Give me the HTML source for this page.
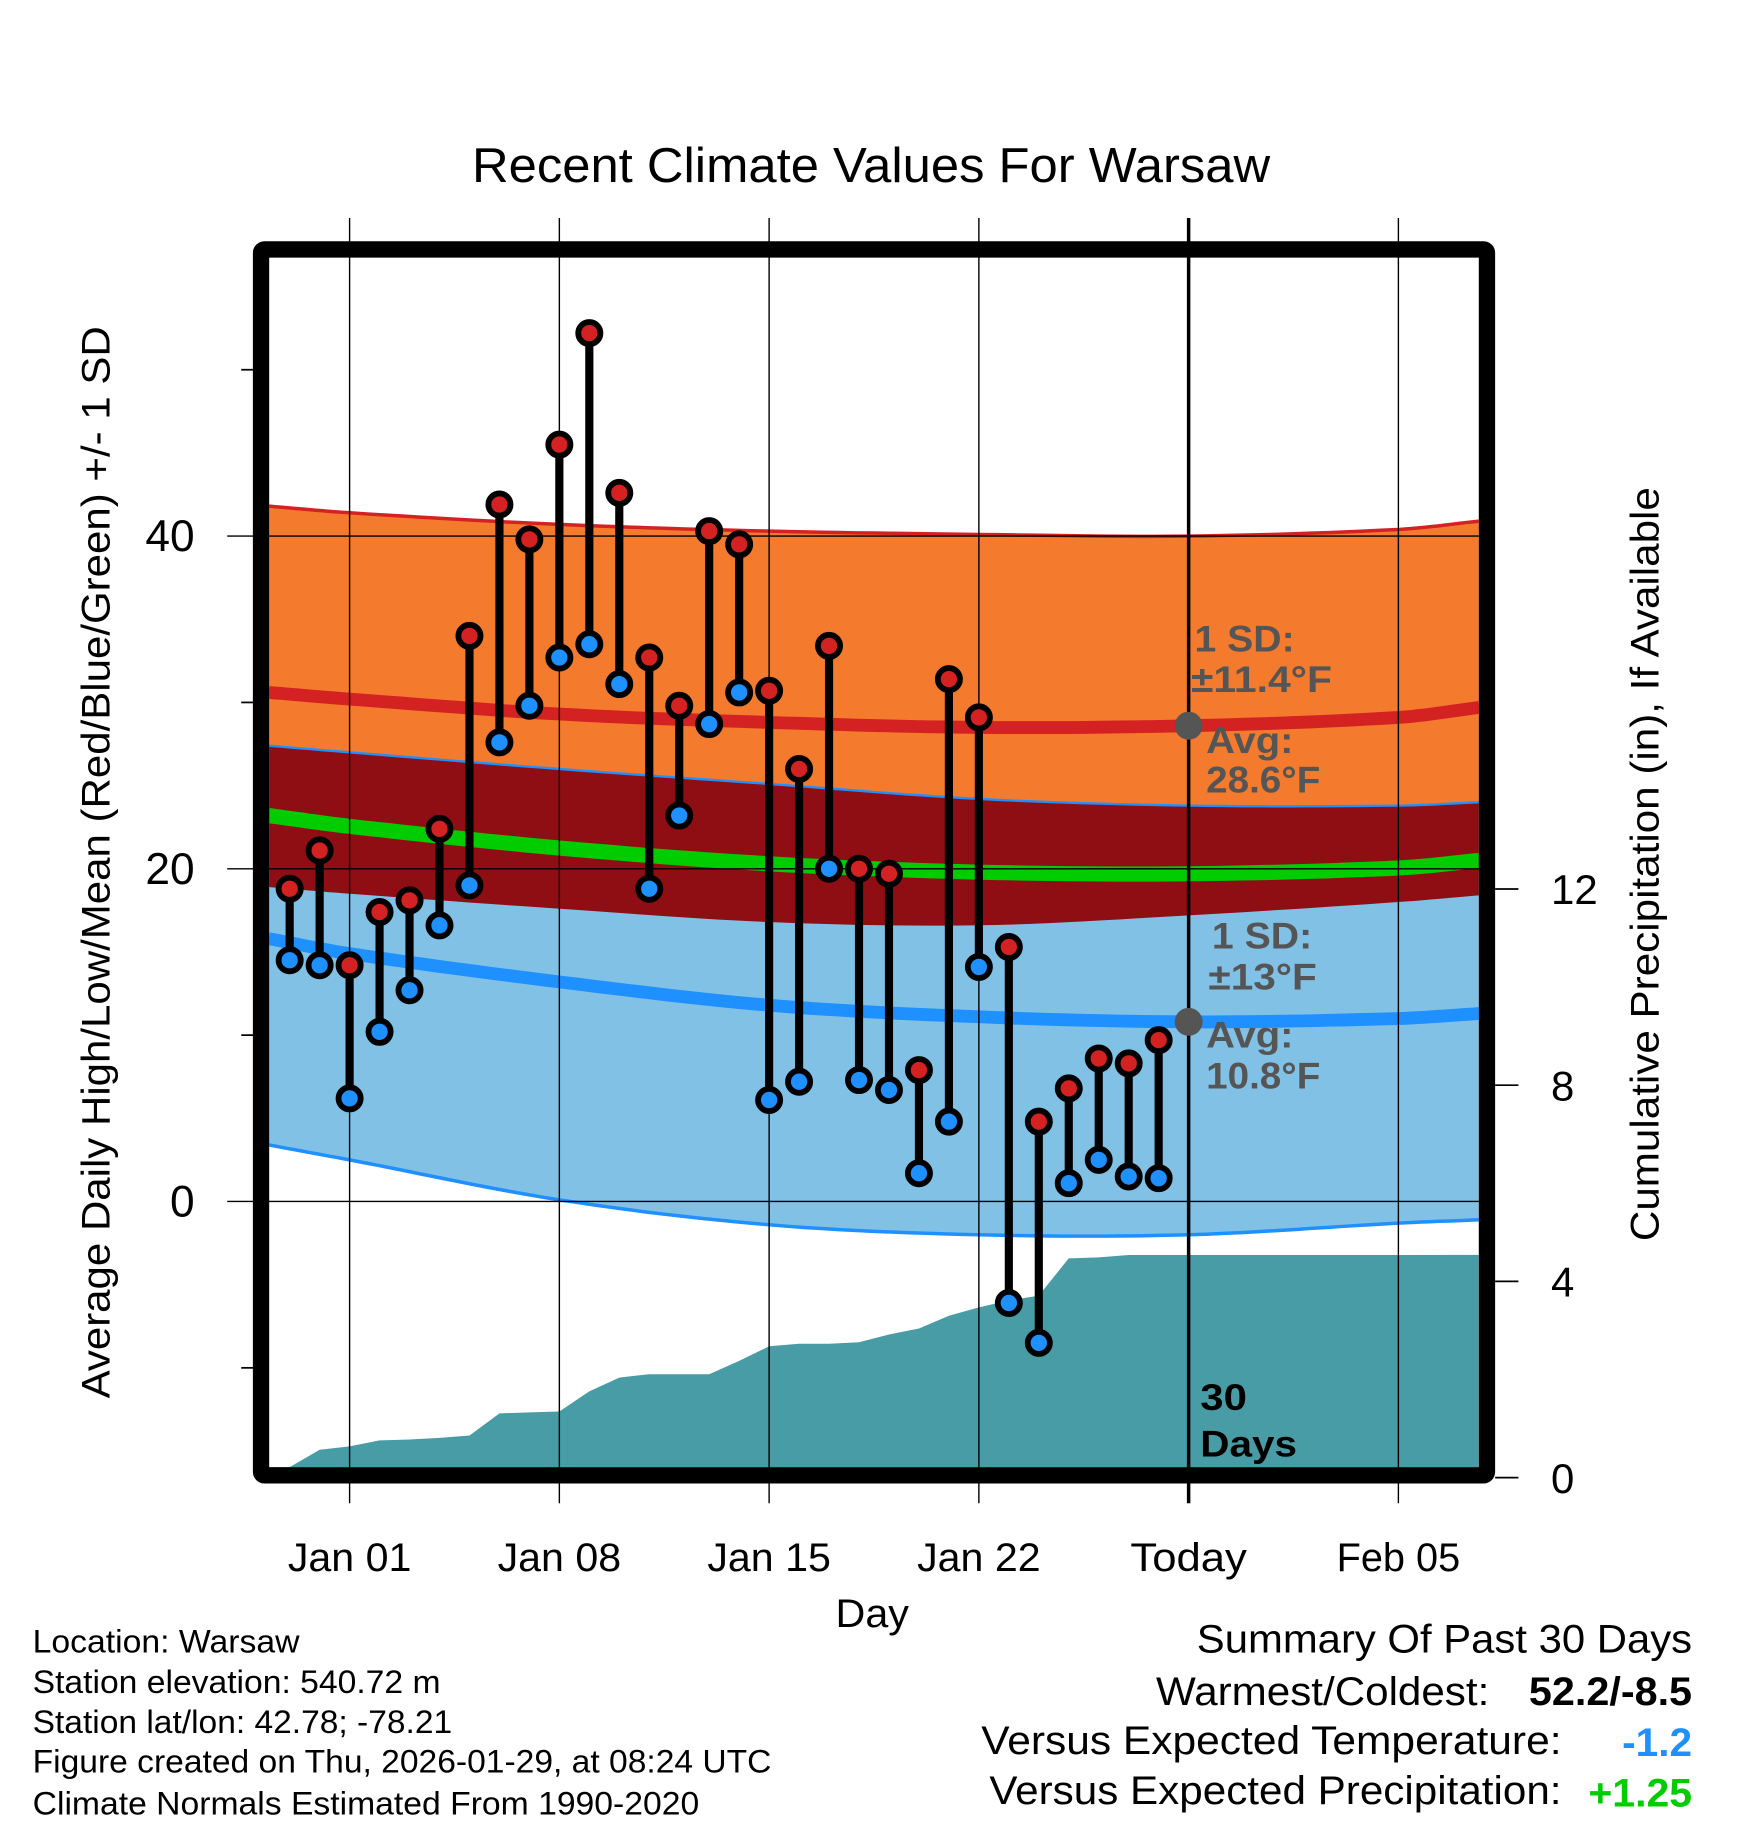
<!DOCTYPE html>
<html><head><meta charset="utf-8"><style>
html,body{margin:0;padding:0;background:#fff;}
svg{display:block;font-family:"Liberation Sans",Arial,sans-serif;}
</style></head><body>
<svg id="chart" width="1748" height="1828" viewBox="0 0 1500 1568.6" xmlns="http://www.w3.org/2000/svg">
<text x="405" y="156" font-size="42" textLength="685" lengthAdjust="spacingAndGlyphs">Recent Climate Values For Warsaw</text>
<g id="plot"></g>
<text x="717" y="1396" font-size="34" textLength="63" lengthAdjust="spacingAndGlyphs">Day</text>
<text transform="translate(94,1200) rotate(-90)" font-size="34" textLength="920" lengthAdjust="spacingAndGlyphs">Average Daily High/Low/Mean (Red/Blue/Green) +/- 1 SD</text>
<text transform="translate(1423,1065) rotate(-90)" font-size="34" textLength="647" lengthAdjust="spacingAndGlyphs">Cumulative Precipitation (in), If Available</text>
<g font-size="28" lengthAdjust="spacingAndGlyphs">
<text x="28" y="1418" textLength="229" lengthAdjust="spacingAndGlyphs">Location: Warsaw</text>
<text x="28" y="1453" textLength="350" lengthAdjust="spacingAndGlyphs">Station elevation: 540.72 m</text>
<text x="28" y="1487" textLength="360" lengthAdjust="spacingAndGlyphs">Station lat/lon: 42.78; -78.21</text>
<text x="28" y="1521" textLength="634" lengthAdjust="spacingAndGlyphs">Figure created on Thu, 2026-01-29, at 08:24 UTC</text>
<text x="28" y="1557" textLength="572" lengthAdjust="spacingAndGlyphs">Climate Normals Estimated From 1990-2020</text>
</g>
<g font-size="34">
<text x="1027" y="1418" textLength="425" lengthAdjust="spacingAndGlyphs">Summary Of Past 30 Days</text>
<text x="992" y="1463" textLength="286" lengthAdjust="spacingAndGlyphs">Warmest/Coldest:</text>
<text x="1312" y="1463" font-weight="bold" textLength="140" lengthAdjust="spacingAndGlyphs">52.2/-8.5</text>
<text x="842" y="1505" textLength="498" lengthAdjust="spacingAndGlyphs">Versus Expected Temperature:</text>
<text x="1392" y="1507" font-weight="bold" fill="#1E90FF" textLength="60" lengthAdjust="spacingAndGlyphs">-1.2</text>
<text x="849" y="1548" textLength="491" lengthAdjust="spacingAndGlyphs">Versus Expected Precipitation:</text>
<text x="1363" y="1550" font-weight="bold" fill="#00CC00" textLength="89" lengthAdjust="spacingAndGlyphs">+1.25</text>
</g>
</svg>
<script>
// observed data: day index relative to Jan 01
const obsDays = [-2,-1,0,1,2,3,4,5,6,7,8,9,10,11,12,13,14,15,16,17,18,19,20,21,22,23,24,25,26,27];
const highs = [18.8,21.1,14.2,17.4,18.1,22.4,34.0,41.9,39.8,45.5,52.2,42.6,32.7,29.8,40.3,39.5,30.7,26.0,33.4,20.0,19.7,7.9,31.4,29.1,15.3,4.8,6.8,8.6,8.3,9.7];
const lows = [14.5,14.2,6.2,10.2,12.7,16.6,19.0,27.6,29.8,32.7,33.5,31.1,18.8,23.2,28.7,30.6,6.1,7.2,20.0,7.3,6.7,1.7,4.8,14.1,-6.1,-8.5,1.1,2.5,1.5,1.4];
const precip = [0,0.57,0.64,0.76,0.78,0.81,0.86,1.31,1.33,1.35,1.76,2.04,2.11,2.11,2.11,2.38,2.68,2.73,2.73,2.76,2.92,3.04,3.30,3.47,3.61,3.71,4.47,4.49,4.54,4.54];
// normals
const normDays = [-2.7,0,7,14,21,28,35,37.7];
const highUpper = [41.8,41.4,40.7,40.3,40.1,40.0,40.4,40.9];
const highAvg = [30.6,30.2,29.3,28.8,28.5,28.6,29.1,29.7];
const highLower = [18.9,18.5,17.6,16.8,16.6,17.2,18.0,18.4];
const lowUpper = [27.4,27.0,26.0,25.1,24.2,23.8,23.8,24.0];
const lowAvg = [15.8,14.9,13.2,11.8,11.1,10.8,11.0,11.3];
const lowLower = [3.4,2.5,0.1,-1.4,-2.0,-2.0,-1.3,-1.1];
const xTickDays = [0,7,14,21,28,35];
const xTickLabels = ["Jan 01","Jan 08","Jan 15","Jan 22","Today","Feb 05"];
const yTicks = [0,20,40];
const yMinorTicks = [-10,10,30,50];
const y2Ticks = [0,4,8,12];

const NS="http://www.w3.org/2000/svg";
const L=231,R=1269,T=221,B=1259;
const X=d=>300+d*25.714;
const Y=t=>1031-t*14.275;
const Y2=p=>1268-p*42.1;
const g=document.getElementById('plot');
function mk(tag,attrs,parent){const e=document.createElementNS(NS,tag);for(const k in attrs)e.setAttribute(k,attrs[k]);(parent||g).appendChild(e);return e;}
const defs=mk('defs',{});
const cp=mk('clipPath',{id:'clip'},defs);mk('rect',{x:L,y:T,width:R-L,height:B-T},cp);
const pg=mk('g',{'clip-path':'url(#clip)'});
// smooth catmull-rom sampling of normals
function smooth(arr){
  const out=[];const n=normDays.length;
  for(let i=0;i<n-1;i++){
    const x0=normDays[Math.max(0,i-1)],x1=normDays[i],x2=normDays[i+1],x3=normDays[Math.min(n-1,i+2)];
    const y0=arr[Math.max(0,i-1)],y1=arr[i],y2=arr[i+1],y3=arr[Math.min(n-1,i+2)];
    const m1=(y2-y0)/(x2-x0||1)*(x2-x1),m2=(y3-y1)/(x3-x1||1)*(x2-x1);
    for(let s=0;s<12;s++){const t=s/12,t2=t*t,t3=t2*t;
      const y=(2*t3-3*t2+1)*y1+(t3-2*t2+t)*m1+(-2*t3+3*t2)*y2+(t3-t2)*m2;
      out.push(X(x1+(x2-x1)*t).toFixed(1)+','+Y(y).toFixed(1));}
  }
  out.push(X(normDays[n-1]).toFixed(1)+','+Y(arr[n-1]).toFixed(1));
  return out;
}
function band(up,lo,fill,name){
  const p=mk('polygon',{points:smooth(up).concat(smooth(lo).reverse()).join(' '),fill:fill},pg);
  
  
}
function line(arr,stroke,w,name){
  const p=mk('polyline',{points:smooth(arr).join(' '),fill:'none',stroke:stroke,'stroke-width':w},pg);
  
  
}
band(highUpper,highLower,'#F47A2E','high-sd-band');
band(lowUpper,lowLower,'#82C1E6','low-sd-band');
const ov=mk('polygon',{points:smooth(lowUpper).concat(smooth(highLower).reverse()).join(' '),fill:'#8F0E14'},pg);


line(highUpper,'#D42222',3,'high-upper-line');
line(lowUpper,'#1E90FF',2,'low-upper-line');
line(lowLower,'#1E90FF',3,'low-lower-line');
line(highAvg,'#D42222',11,'high-average-line');
line(lowAvg,'#1E90FF',11,'low-average-line');
const meanArr=highAvg.map((h,i)=>(h+lowAvg[i])/2);
line(meanArr,'#00CC00',13,'mean-average-line');
// precipitation
let pp=[X(obsDays[0]+0.35)+','+B];
obsDays.forEach((d,i)=>pp.push(X(d).toFixed(1)+','+Math.min(B,Y2(precip[i])).toFixed(1)));
pp.push(R+','+Y2(precip[precip.length-1]));pp.push(R+','+B);
const pa=mk('polygon',{points:pp.join(' '),fill:'#479CA6'},pg);


// gridlines
xTickDays.forEach((d,i)=>{
  const isToday=xTickLabels[i]==='Today';
  const gl=mk('line',{x1:X(d),x2:X(d),y1:187,y2:1290,stroke:'#000','stroke-width':isToday?3:1.2});
  
  
  const t=mk('text',{x:X(d),y:1348,'font-size':34,'text-anchor':'middle',textLength:isToday?100:106,lengthAdjust:'spacingAndGlyphs'});
  t.textContent=xTickLabels[i];
  
  
});
yTicks.forEach(v=>{
  const gl=mk('line',{x1:195,x2:R,y1:Y(v),y2:Y(v),stroke:'#000','stroke-width':1.2});
  
  
  const t=mk('text',{x:167,y:Y(v)+13,'font-size':38,'text-anchor':'end'});
  t.textContent=v;
  
  
});
yMinorTicks.forEach(v=>{
  const tk=mk('line',{x1:207,x2:220,y1:Y(v),y2:Y(v),stroke:'#000','stroke-width':1.5});
  
  
});
y2Ticks.forEach(v=>{
  const tk=mk('line',{x1:1283,x2:1303,y1:Y2(v),y2:Y2(v),stroke:'#000','stroke-width':1.5});
  
  
  const t=mk('text',{x:1331,y:Y2(v)+13,'font-size':36,'text-anchor':'start'});
  t.textContent=v;
  
  
});
// annotations
function txt(x,y,s,name,len,fill){const t=mk('text',{x:x,y:y,'font-size':32,'font-weight':'bold',fill:fill||'#555',textLength:len,lengthAdjust:'spacingAndGlyphs'});t.textContent=s;}
txt(1025,559,'1 SD:','high-sd-label',86);txt(1022,594,'±11.4°F','high-sd-value',121);
txt(1035,646,'Avg:','high-avg-label',75);txt(1035,680,'28.6°F','high-avg-value',98);
txt(1040,814,'1 SD:','low-sd-label',86);txt(1037,849,'±13°F','low-sd-value',93);
txt(1035,899,'Avg:','low-avg-label',75);txt(1035,934,'10.8°F','low-avg-value',98);
txt(1030,1210,'30','days-count',40,'#000');txt(1030,1250,'Days','days-label',83,'#000');
const d1=mk('circle',{cx:X(28),cy:Y(highAvg[5]),r:12,fill:'#555'});


const d2=mk('circle',{cx:X(28),cy:Y(lowAvg[5]),r:12,fill:'#555'});


// stems and dots
obsDays.forEach((d,i)=>{
  const s=mk('line',{x1:X(d),x2:X(d),y1:Y(highs[i]),y2:Y(lows[i]),stroke:'#000','stroke-width':7});
  
  
});
obsDays.forEach((d,i)=>{
  const h=mk('circle',{cx:X(d),cy:Y(highs[i]),r:9.5,fill:'#D42222',stroke:'#000','stroke-width':5});
  
  
  const l=mk('circle',{cx:X(d),cy:Y(lows[i]),r:9.5,fill:'#1E90FF',stroke:'#000','stroke-width':5});
  
  
});
const fr=mk('rect',{x:224,y:214,width:1052,height:1052,fill:'none',stroke:'#000','stroke-width':14,rx:3});


</script>
</body></html>
